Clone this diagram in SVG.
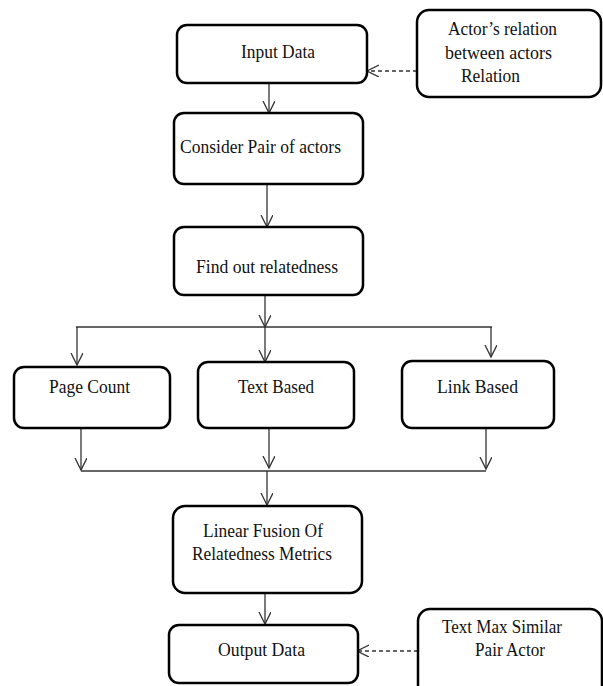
<svg xmlns="http://www.w3.org/2000/svg" width="603" height="686" viewBox="0 0 603 686">
<style>
.box{fill:#fff;stroke:#000;stroke-width:2.5}
.t{font-family:"Liberation Serif","Times New Roman",serif;font-size:18.5px;fill:#111}
.c{fill:none;stroke:#333;stroke-width:1.3}
.d{fill:none;stroke:#333;stroke-width:1.3;stroke-dasharray:4 3}
</style>
<defs>
<marker id="ah" markerUnits="userSpaceOnUse" markerWidth="14" markerHeight="14" refX="12" refY="6" orient="auto">
<path d="M0,0 L12,6 L0,12" fill="none" stroke="#333" stroke-width="1.3"/>
</marker>
</defs>
<rect width="603" height="686" fill="#fff"/>
<g id="connectors">
<line class="c" x1="269" y1="83" x2="269" y2="113" marker-end="url(#ah)"/>
<line class="c" x1="267" y1="184" x2="267" y2="227" marker-end="url(#ah)"/>
<line class="c" x1="265" y1="295" x2="265" y2="327" marker-end="url(#ah)"/>
<line class="c" x1="76" y1="327" x2="492" y2="327"/>
<line class="c" x1="77" y1="327" x2="77" y2="365" marker-end="url(#ah)"/>
<line class="c" x1="265" y1="327" x2="265" y2="362" marker-end="url(#ah)"/>
<line class="c" x1="491" y1="327" x2="491" y2="357" marker-end="url(#ah)"/>
<line class="c" x1="81" y1="428" x2="81" y2="470" marker-end="url(#ah)"/>
<line class="c" x1="269" y1="428" x2="269" y2="468" marker-end="url(#ah)"/>
<line class="c" x1="486" y1="428" x2="486" y2="469" marker-end="url(#ah)"/>
<line class="c" x1="81" y1="471" x2="486" y2="471"/>
<line class="c" x1="267" y1="471" x2="267" y2="505" marker-end="url(#ah)"/>
<line class="c" x1="265" y1="593" x2="265" y2="624" marker-end="url(#ah)"/>
<line class="d" x1="417" y1="71" x2="367" y2="71" marker-end="url(#ah)"/>
<line class="d" x1="418" y1="651" x2="357" y2="651" marker-end="url(#ah)"/>
</g>
<g id="input-data">
<rect class="box" x="177" y="25" width="190" height="58" rx="10"/>
<text class="t" x="241" y="58" textLength="74" lengthAdjust="spacingAndGlyphs">Input Data</text>
</g>
<g id="actors-relation">
<rect class="box" x="417" y="10" width="184" height="87" rx="12"/>
<text class="t" x="448" y="35" textLength="109" lengthAdjust="spacingAndGlyphs">Actor’s relation</text>
<text class="t" x="445" y="59" textLength="107" lengthAdjust="spacingAndGlyphs">between actors</text>
<text class="t" x="461" y="82" textLength="59" lengthAdjust="spacingAndGlyphs">Relation</text>
</g>
<g id="consider-pair">
<rect class="box" x="174" y="113" width="189" height="71" rx="10"/>
<text class="t" x="180" y="153" textLength="161" lengthAdjust="spacingAndGlyphs">Consider Pair of actors</text>
</g>
<g id="find-relatedness">
<rect class="box" x="174" y="227" width="189" height="68" rx="10"/>
<text class="t" x="196" y="273" textLength="142" lengthAdjust="spacingAndGlyphs">Find out relatedness</text>
</g>
<g id="page-count">
<rect class="box" x="14" y="367" width="156" height="61" rx="10"/>
<text class="t" x="49" y="393" textLength="81" lengthAdjust="spacingAndGlyphs">Page Count</text>
</g>
<g id="text-based">
<rect class="box" x="198" y="362" width="156" height="66" rx="10"/>
<text class="t" x="238" y="393" textLength="76" lengthAdjust="spacingAndGlyphs">Text Based</text>
</g>
<g id="link-based">
<rect class="box" x="402" y="361" width="152" height="67" rx="10"/>
<text class="t" x="437" y="393" textLength="81" lengthAdjust="spacingAndGlyphs">Link Based</text>
</g>
<g id="linear-fusion">
<rect class="box" x="173" y="506" width="189" height="87" rx="12"/>
<text class="t" x="203" y="537" textLength="120" lengthAdjust="spacingAndGlyphs">Linear Fusion Of</text>
<text class="t" x="192" y="560" textLength="140" lengthAdjust="spacingAndGlyphs">Relatedness Metrics</text>
</g>
<g id="output-data">
<rect class="box" x="169" y="625" width="189" height="58" rx="10"/>
<text class="t" x="218" y="656" textLength="87" lengthAdjust="spacingAndGlyphs">Output Data</text>
</g>
<g id="text-max-similar">
<rect class="box" x="418" y="609" width="184" height="90" rx="12"/>
<text class="t" x="442" y="633" textLength="120" lengthAdjust="spacingAndGlyphs">Text Max Similar</text>
<text class="t" x="475" y="656" textLength="70" lengthAdjust="spacingAndGlyphs">Pair Actor</text>
</g>
</svg>
